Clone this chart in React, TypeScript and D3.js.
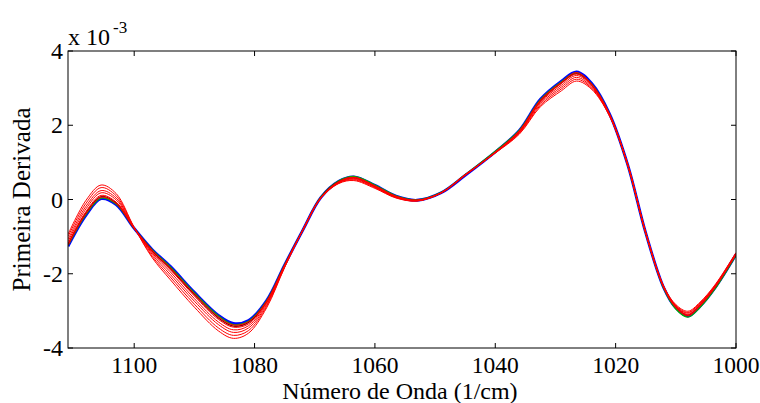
import React from "react";
import * as d3 from "d3";

// Wavenumbers (1/cm), descending
const wavenumbers = [1111, 1108, 1105.5, 1103, 1100, 1097, 1094, 1090, 1086, 1083.5, 1081, 1078, 1075, 1072, 1069, 1066, 1063.5, 1060, 1056.5, 1053, 1049, 1045, 1040, 1036, 1032.5, 1029, 1026.5, 1024, 1021, 1018, 1015, 1012, 1010, 1008, 1006, 1003.5, 1000];

// First derivative values (x 10^-3)
const blueSeries = [-1.26, -0.42, 0.02, -0.14, -0.78, -1.35, -1.8, -2.5, -3.12, -3.34, -3.26, -2.72, -1.76, -0.83, 0.05, 0.49, 0.61, 0.38, 0.09, -0.02, 0.18, 0.65, 1.28, 1.86, 2.7, 3.19, 3.44, 3.13, 2.3, 0.94, -0.9, -2.38, -2.92, -3.14, -2.88, -2.38, -1.48];
const greenSeries = [-1.24, -0.4, 0.04, -0.12, -0.78, -1.36, -1.82, -2.52, -3.14, -3.37, -3.28, -2.73, -1.76, -0.83, 0.06, 0.5, 0.62, 0.39, 0.1, -0.01, 0.19, 0.67, 1.3, 1.87, 2.69, 3.17, 3.41, 3.11, 2.29, 0.93, -0.91, -2.4, -2.95, -3.17, -2.91, -2.41, -1.5];
const darkSeries = [-1.22, -0.36, 0.08, -0.09, -0.78, -1.38, -1.86, -2.56, -3.19, -3.41, -3.31, -2.75, -1.77, -0.83, 0.05, 0.48, 0.59, 0.36, 0.08, -0.02, 0.18, 0.66, 1.27, 1.84, 2.66, 3.14, 3.39, 3.1, 2.28, 0.94, -0.9, -2.37, -2.9, -3.12, -2.86, -2.37, -1.47];
const red1 = [-0.94, -0.02, 0.39, 0.16, -0.75, -1.57, -2.16, -2.9, -3.54, -3.74, -3.6, -2.92, -1.83, -0.83, 0.03, 0.43, 0.51, 0.3, 0.04, -0.04, 0.18, 0.67, 1.25, 1.76, 2.5, 2.93, 3.19, 2.97, 2.24, 0.94, -0.9, -2.34, -2.83, -3.01, -2.77, -2.3, -1.43];
const red2 = [-1.0, -0.1, 0.32, 0.1, -0.76, -1.53, -2.09, -2.82, -3.46, -3.66, -3.53, -2.88, -1.82, -0.83, 0.03, 0.44, 0.53, 0.32, 0.05, -0.04, 0.18, 0.67, 1.26, 1.78, 2.54, 2.98, 3.24, 3.0, 2.25, 0.94, -0.9, -2.35, -2.85, -3.04, -2.79, -2.32, -1.44];
const red3 = [-1.07, -0.18, 0.24, 0.04, -0.76, -1.48, -2.02, -2.74, -3.37, -3.58, -3.46, -2.84, -1.8, -0.83, 0.04, 0.45, 0.55, 0.33, 0.06, -0.03, 0.18, 0.66, 1.26, 1.8, 2.58, 3.03, 3.29, 3.03, 2.26, 0.94, -0.9, -2.36, -2.87, -3.06, -2.81, -2.33, -1.45];
const red4 = [-1.13, -0.25, 0.18, -0.01, -0.77, -1.44, -1.95, -2.67, -3.3, -3.51, -3.4, -2.8, -1.79, -0.83, 0.04, 0.46, 0.57, 0.35, 0.07, -0.03, 0.18, 0.66, 1.27, 1.82, 2.62, 3.08, 3.34, 3.06, 2.27, 0.94, -0.9, -2.36, -2.88, -3.09, -2.83, -2.35, -1.46];
const red5 = [-1.18, -0.32, 0.11, -0.07, -0.77, -1.41, -1.89, -2.6, -3.23, -3.44, -3.35, -2.77, -1.78, -0.83, 0.05, 0.47, 0.59, 0.36, 0.08, -0.02, 0.18, 0.66, 1.27, 1.84, 2.65, 3.13, 3.38, 3.09, 2.29, 0.94, -0.9, -2.37, -2.9, -3.11, -2.85, -2.36, -1.47];
const red6 = [-1.23, -0.38, 0.06, -0.11, -0.78, -1.37, -1.84, -2.54, -3.16, -3.38, -3.29, -2.74, -1.77, -0.83, 0.05, 0.48, 0.6, 0.37, 0.09, -0.02, 0.18, 0.65, 1.28, 1.85, 2.68, 3.16, 3.42, 3.11, 2.29, 0.94, -0.9, -2.38, -2.91, -3.13, -2.87, -2.37, -1.48];

const xTicks = [1100, 1080, 1060, 1040, 1020, 1000];
const yTicks = [-4, -2, 0, 2, 4];

const FONT = "'Liberation Serif', 'Times New Roman', serif";
const txt = { fontFamily: FONT } as React.CSSProperties;

export default function App() {
  const W = 760;
  const H = 403;
  const L = 68, R = 736, T = 51, B = 348;
  const x = d3.scaleLinear().domain([1111, 1000]).range([L, R]);
  const y = d3.scaleLinear().domain([-4, 4]).range([B, T]);
  const line = d3
    .line<number>()
    .x((_, i) => x(wavenumbers[i]))
    .y((d) => y(d))
    .curve(d3.curveCatmullRom.alpha(0.5));

  const series = [
    { v: blueSeries, c: "#0000ff", w: 2.8 },
    { v: greenSeries, c: "#00b400", w: 1.3 },
    { v: darkSeries, c: "#900000", w: 1.3 },
    { v: red6, c: "#ff0000", w: 1 },
    { v: red5, c: "#ff0000", w: 1 },
    { v: red4, c: "#ff0000", w: 1 },
    { v: red3, c: "#ff0000", w: 1 },
    { v: red2, c: "#ff0000", w: 1 },
    { v: red1, c: "#ff0000", w: 1 },
  ];
  const tl = 5;

  return (
    <svg width={W} height={H} style={{ position: "absolute", left: 0, top: 0, background: "#fff" }}>
      <rect x={0} y={0} width={W} height={H} fill="#fff" />
      <defs>
        <clipPath id="plotclip">
          <rect x={L} y={T} width={R - L} height={B - T} />
        </clipPath>
      </defs>
      <g clipPath="url(#plotclip)">
        {series.map((s, i) => (
          <path key={i} d={line(s.v) || ""} fill="none" stroke={s.c} strokeWidth={s.w} strokeLinejoin="round" />
        ))}
      </g>
      <rect x={L} y={T} width={R - L} height={B - T} fill="none" stroke="#000" strokeWidth={1} />
      {xTicks.map((t) => (
        <g key={"x" + t}>
          <line x1={x(t)} x2={x(t)} y1={B} y2={B - tl} stroke="#000" />
          <line x1={x(t)} x2={x(t)} y1={T} y2={T + tl} stroke="#000" />
          <text x={x(t)} y={372.5} fontSize={23.5} textAnchor="middle" fill="#000" style={txt}>
            {t}
          </text>
        </g>
      ))}
      {yTicks.map((t) => (
        <g key={"y" + t}>
          <line x1={L} x2={L + tl} y1={y(t)} y2={y(t)} stroke="#000" />
          <line x1={R} x2={R - tl} y1={y(t)} y2={y(t)} stroke="#000" />
          <text x={63} y={y(t) + 8} fontSize={24} textAnchor="end" fill="#000" style={txt}>
            {t}
          </text>
        </g>
      ))}
      <text x={68} y={45} fontSize={24} fill="#000" style={txt}>
        x 10
      </text>
      <text x={113} y={33} fontSize={17} fill="#000" style={txt}>
        -3
      </text>
      <text x={400} y={398.5} fontSize={24} textAnchor="middle" fill="#000" style={txt}>
        Número de Onda (1/cm)
      </text>
      <text
        transform={`translate(30, ${(T + B) / 2}) rotate(-90)`}
        fontSize={25}
        textAnchor="middle"
        fill="#000"
        style={txt}
      >
        Primeira Derivada
      </text>
    </svg>
  );
}
